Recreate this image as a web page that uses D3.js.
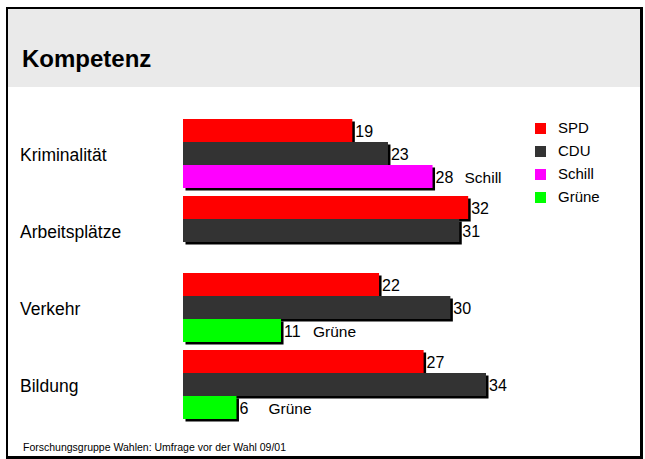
<!DOCTYPE html>
<html><head><meta charset="utf-8">
<script src="https://cdn.jsdelivr.net/npm/d3@7"></script>
<style>
html,body{margin:0;padding:0;background:#fff;}
svg{display:block;font-family:"Liberation Sans",Arial,sans-serif;}
</style></head>
<body>
<svg id="chart" width="645" height="459"></svg>
<script>
const title = "Kompetenz";
const source = "Forschungsgruppe Wahlen: Umfrage vor der Wahl 09/01";
const categories = ["Kriminalität", "Arbeitsplätze", "Verkehr", "Bildung"];
const spdValues = [19, 32, 22, 27];
const cduValues = [23, 31, 30, 34];
const thirdParty = ["Schill", null, "Grüne", "Grüne"];
const thirdValues = [28, null, 11, 6];
const legendParties = ["SPD", "CDU", "Schill", "Grüne"];
const partyColors = {SPD: "#ff0000", CDU: "#333333", Schill: "#ff00ff", "Grüne": "#00ff00"};

const svg = d3.select("#chart");

// frame
svg.append("rect").attr("x", 7).attr("y", 8).attr("width", 634).attr("height", 449)
  .attr("fill", "#fff").attr("stroke", "#000").attr("stroke-width", 2);
svg.append("line").attr("x1", 642).attr("x2", 642).attr("y1", 7).attr("y2", 459)
  .attr("stroke", "#000").attr("stroke-width", 2);
svg.append("line").attr("x1", 6).attr("x2", 643).attr("y1", 458).attr("y2", 458)
  .attr("stroke", "#000").attr("stroke-width", 2);
// header
svg.append("rect").attr("x", 8).attr("y", 9).attr("width", 632).attr("height", 78).attr("fill", "#eaeaea");
svg.append("text").attr("x", 22).attr("y", 67).attr("font-size", 24).attr("font-weight", "bold")
  .attr("fill", "#000").text(title);

// rows
const rows = [];
categories.forEach((c, i) => {
  rows.push({cat: c, slot: 0, party: "SPD", value: spdValues[i], name: null});
  rows.push({cat: c, slot: 1, party: "CDU", value: cduValues[i], name: null});
  if (thirdValues[i] != null) rows.push({cat: c, slot: 2, party: thirdParty[i], value: thirdValues[i], name: thirdParty[i]});
});

const maxV = d3.max(rows, d => d.value);
const x = d3.scaleLinear().domain([0, maxV]).range([183, 486]);
const y = d3.scaleBand().domain(categories).range([119, 419]).paddingInner(8 / 77).paddingOuter(0);
const ys = d3.scaleBand().domain([0, 1, 2]).range([0, y.bandwidth()]);

const g = svg.append("g");
// bars drawn in order so later bars cover earlier shadows
rows.forEach(d => {
  g.append("rect").attr("x", x(0) + 2.5).attr("y", y(d.cat) + ys(d.slot) + 2.5)
    .attr("width", x(d.value) - x(0)).attr("height", ys.bandwidth()).attr("fill", "#000");
  g.append("rect").attr("x", x(0)).attr("y", y(d.cat) + ys(d.slot))
    .attr("width", x(d.value) - x(0)).attr("height", ys.bandwidth())
    .attr("fill", partyColors[d.party]);
});
// value labels
g.selectAll("text.val").data(rows).join("text").attr("class", "val")
  .attr("x", d => x(d.value) + 3).attr("y", d => y(d.cat) + ys(d.slot) + 17.5)
  .attr("font-size", 16).attr("fill", "#000").text(d => d.value);
g.selectAll("text.nm").data(rows.filter(d => d.name)).join("text").attr("class", "nm")
  .attr("x", d => x(d.value) + 32).attr("y", d => y(d.cat) + ys(d.slot) + 17.5)
  .attr("font-size", 15.5).attr("fill", "#000").text(d => d.name);

// category labels
svg.selectAll("text.cat").data(categories).join("text").attr("class", "cat")
  .attr("x", 20).attr("y", d => y(d) + y.bandwidth() / 2 + 7)
  .attr("font-size", 17.5).attr("fill", "#000").text(d => d);

// legend
const lg = svg.selectAll("g.leg").data(legendParties).join("g").attr("class", "leg")
  .attr("transform", (d, i) => `translate(535,${123 + i * 23})`);
lg.append("rect").attr("width", 11).attr("height", 11).attr("fill", d => partyColors[d]);
lg.append("text").attr("x", 23).attr("y", 10).attr("font-size", 15).attr("fill", "#000").text(d => d);

// footer
svg.append("text").attr("x", 23).attr("y", 451).attr("font-size", 10.5).attr("fill", "#000").text(source);
</script>
</body></html>
